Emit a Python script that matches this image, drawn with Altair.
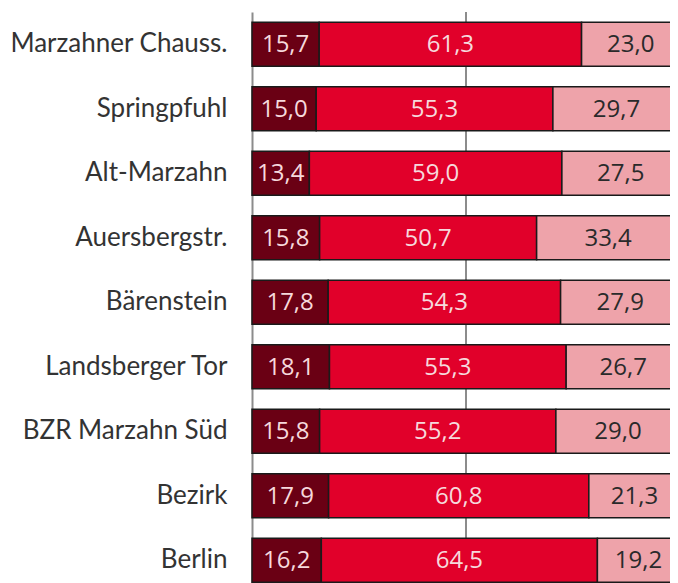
import altair as alt
import pandas as pd

categories = ["Marzahner Chauss.", "Springpfuhl", "Alt-Marzahn", "Auersbergstr.",
              "Bärenstein", "Landsberger Tor", "BZR Marzahn Süd", "Bezirk", "Berlin"]
seg1 = [15.7, 15.0, 13.4, 15.8, 17.8, 18.1, 15.8, 17.9, 16.2]
seg2 = [61.3, 55.3, 59.0, 50.7, 54.3, 55.3, 55.2, 60.8, 64.5]
seg3 = [23.0, 29.7, 27.5, 33.4, 27.9, 26.7, 29.0, 21.3, 19.2]
colors = ["#6a0014", "#e1002a", "#eea3aa"]
text_colors = ["#f6d9dc", "#f6d9dc", "#2a2a2a"]

rows = []
for i, c in enumerate(categories):
    start = 0.0
    for k, vals in enumerate([seg1, seg2, seg3]):
        v = vals[i]
        rows.append({"cat": c, "start": start, "end": start + v,
                     "mid": start + v / 2, "label": f"{v:.1f}".replace(".", ","),
                     "fill": colors[k], "tcol": text_colors[k]})
        start += v
df = pd.DataFrame(rows)

LABEL_FONT = "Lato"
NUM_FONT = "Open Sans"

# the visible plot is cut off on the right, just short of 100 %
yscale = alt.Scale(domain=categories, paddingInner=0.32, paddingOuter=0.16)
xscale = alt.Scale(domain=[0, 97.66], nice=False, zero=True)

base = alt.Chart(df)

grid = alt.Chart(pd.DataFrame({"v": [50]})).mark_rule(color="#8c8c8c", strokeWidth=2).encode(
    x=alt.X("v:Q", scale=xscale, axis=None)
)

bars = base.mark_bar(stroke="#1a1a1a", strokeWidth=1.5, strokeJoin="miter").encode(
    y=alt.Y("cat:N", scale=yscale, sort=categories,
            axis=alt.Axis(title=None, ticks=False, domain=True, domainColor="#8c8c8c",
                          domainWidth=2, labelFont=LABEL_FONT, labelFontSize=26,
                          labelColor="#333333", labelPadding=25, labelLimit=400)),
    x=alt.X("start:Q", scale=xscale, axis=None),
    x2="end:Q",
    fill=alt.Fill("fill:N", scale=None),
)

labels = base.mark_text(font=NUM_FONT, fontSize=24, baseline="middle", align="center", dy=1).encode(
    y=alt.Y("cat:N", scale=yscale, sort=categories),
    x=alt.X("mid:Q", scale=xscale),
    text="label:N",
    color=alt.Color("tcol:N", scale=None),
)

chart = alt.layer(grid, bars, labels).properties(
    width=418, height=580.5,
    autosize=alt.AutoSizeParams(type="none"),
    padding={"left": 244, "top": 4, "right": 0, "bottom": 0},
).configure_view(stroke=None).configure_axis(grid=False)

chart.save("out.html", embed_options={"renderer": "svg", "actions": False})
